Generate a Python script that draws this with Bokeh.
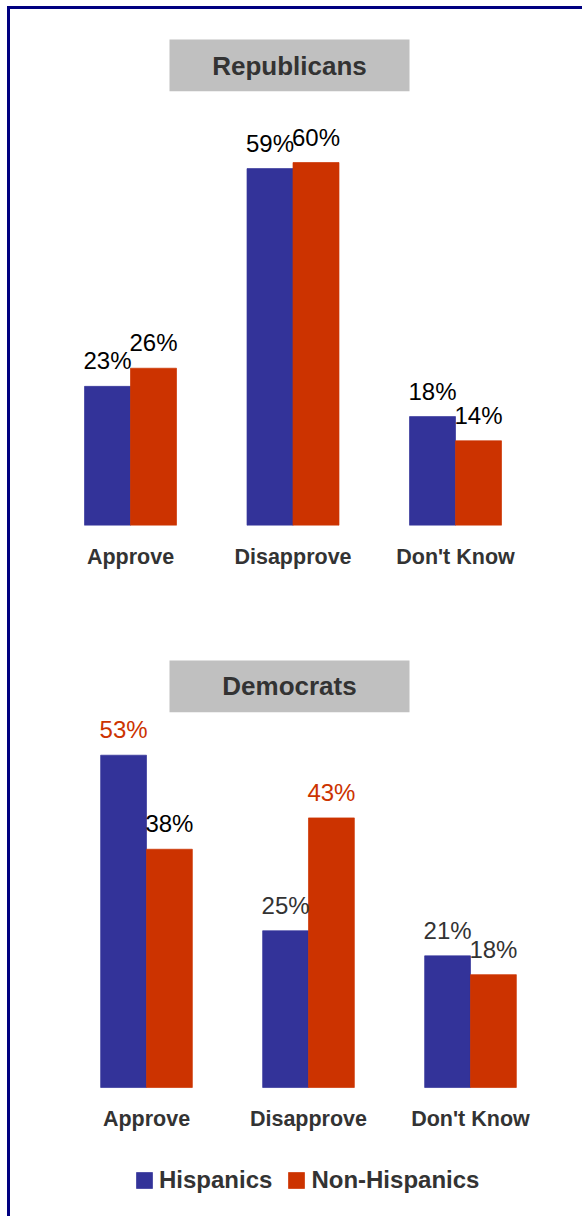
from bokeh.plotting import figure
from bokeh.models import (ColumnDataSource, Range1d, Label, FixedTicker,
                          BoxAnnotation, Legend, LegendItem)
from bokeh.layouts import column
from bokeh.transform import dodge
from bokeh.core.properties import value
from bokeh.embed import file_html
from bokeh.resources import INLINE

# ---------------- data ----------------
categories = ["Approve", "Disapprove", "Don't Know"]
series = ["Hispanics", "Non-Hispanics"]
panel_titles = ["Republicans", "Democrats"]
rep_hispanics = [23, 59, 18]
rep_non_hispanics = [26, 60, 14]
dem_hispanics = [53, 25, 21]
dem_non_hispanics = [38, 43, 18]

# ---------------- styles ----------------
BLUE = "#333399"
RED = "#CC3300"
DARK = "#333333"
BLACK = "#000000"
FONT = "Liberation Sans"
rep_label_colors = ([BLACK, BLACK, BLACK], [BLACK, BLACK, BLACK])
dem_label_colors = ([RED, DARK, DARK], [BLACK, RED, DARK])
BAR_W = 0.283
FIG_W = 572


def make_panel(title, h_vals, n_vals, label_colors, height, x_range, y_range,
               min_bottom, box_top, box_bottom, title_y, fixed_axis):
    p = figure(x_range=Range1d(*x_range), y_range=Range1d(*y_range),
               width=FIG_W, height=height, output_backend="svg",
               toolbar_location=None, y_axis_location=None,
               min_border_left=0, min_border_right=0,
               min_border_top=0, min_border_bottom=min_bottom,
               outline_line_color=None, background_fill_color="white",
               border_fill_color="white")
    p.xgrid.visible = False
    p.ygrid.visible = False

    idx = list(range(len(categories)))
    src = ColumnDataSource(dict(
        x=idx, cat=categories, h=h_vals, n=n_vals,
        h_lab=[f"{v}%" for v in h_vals], n_lab=[f"{v}%" for v in n_vals],
        h_col=label_colors[0], n_col=label_colors[1]))

    r_h = p.vbar(x=dodge("x", -BAR_W / 2), top="h", width=BAR_W,
                 source=src, fill_color=BLUE, line_color=BLUE, line_width=0.7)
    r_n = p.vbar(x=dodge("x", BAR_W / 2), top="n", width=BAR_W,
                 source=src, fill_color=RED, line_color=RED, line_width=0.7)

    for xoff, col, lab, colr in ((-BAR_W / 2, "h", "h_lab", "h_col"),
                                 (BAR_W / 2, "n", "n_lab", "n_col")):
        p.text(x=dodge("x", xoff), y=col, text=lab,
               text_color=colr, text_align="center", text_baseline="alphabetic",
               y_offset=-25.5, text_font=value(FONT), text_font_size="24px",
               source=src)

    ax = p.xaxis[0]
    ax.ticker = FixedTicker(ticks=idx)
    ax.major_label_overrides = {i: c for i, c in zip(idx, categories)}
    ax.axis_line_color = None
    ax.major_tick_line_color = None
    ax.major_tick_out = 0
    ax.major_tick_in = 0
    ax.minor_tick_line_color = None
    ax.major_label_standoff = 19
    ax.major_label_text_font = FONT
    ax.major_label_text_font_size = "21.5px"
    ax.major_label_text_font_style = "bold"
    ax.major_label_text_color = DARK
    if fixed_axis:
        ax.fixed_location = 0

    box = BoxAnnotation(left=159, right=399, top=box_top, bottom=box_bottom,
                        left_units="canvas", right_units="canvas",
                        top_units="canvas", bottom_units="canvas",
                        fill_color="#C0C0C0", fill_alpha=1.0, line_color=None)
    p.add_layout(box)
    p.add_layout(Label(x=279, y=title_y, x_units="canvas", y_units="canvas",
                       text=title, text_align="center", text_baseline="alphabetic",
                       text_font=FONT, text_font_size="26px",
                       text_font_style="bold", text_color=DARK))
    return p, r_h, r_n


p1, _, _ = make_panel(panel_titles[0], rep_hispanics, rep_non_hispanics,
                      rep_label_colors, height=589,
                      x_range=(-0.7385, 2.7815), y_range=(0, 85.3),
                      min_bottom=73, box_top=30, box_bottom=81.7, title_y=56,
                      fixed_axis=False)

p2, r_h, r_n = make_panel(panel_titles[1], dem_hispanics, dem_non_hispanics,
                          dem_label_colors, height=618,
                          x_range=(-0.8395, 2.6914), y_range=(-20.57, 77.99),
                          min_bottom=0, box_top=62, box_bottom=113.7, title_y=87.7,
                          fixed_axis=True)

legend = Legend(items=[LegendItem(label=series[0], renderers=[r_h]),
                       LegendItem(label=series[1], renderers=[r_n])],
                orientation="horizontal", location=(124, 22),
                glyph_width=20, glyph_height=20, label_standoff=5, spacing=14,
                padding=0, margin=0, border_line_color=None,
                background_fill_alpha=0.0,
                label_text_font=FONT, label_text_font_size="24px",
                label_text_font_style="bold", label_text_color=DARK)
p2.add_layout(legend)

layout = column(p1, p2, styles={"margin-left": "7px", "margin-top": "6px",
                                "border-left": "3px solid #000080",
                                "border-top": "3px solid #000080"})

with open("out.html", "w") as f:
    f.write(file_html(layout, INLINE))
